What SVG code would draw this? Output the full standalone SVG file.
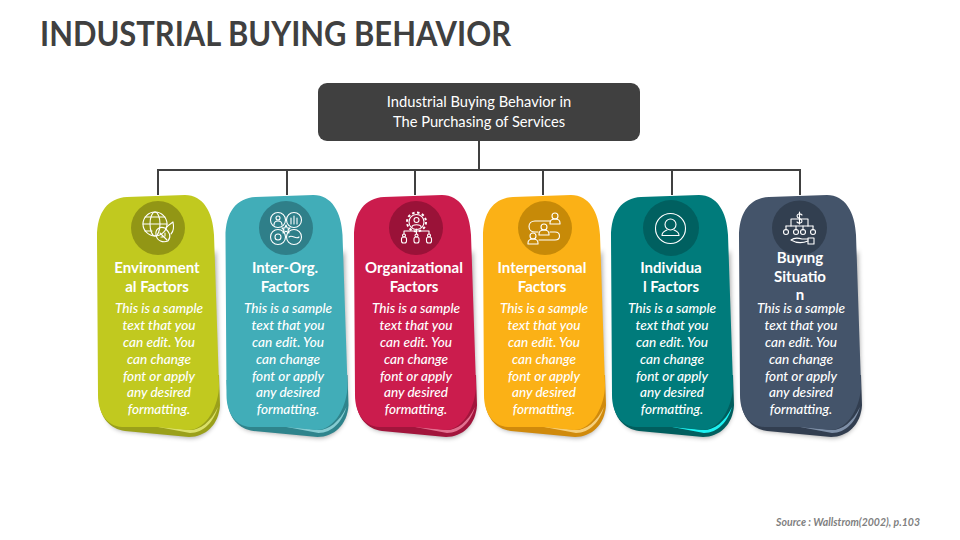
<svg xmlns="http://www.w3.org/2000/svg" width="960" height="540" viewBox="0 0 960 540">
<style>
text{font-family:Lato,"Open Sans","Liberation Sans",sans-serif;fill:#fff;text-anchor:middle}
.h{font-size:33.5px;font-weight:700;fill:#404040;text-anchor:start}
.r{font-size:14.7px}
.t{font-size:15px;font-weight:700}
.b{font-size:13.6px;font-style:italic;font-weight:500}
.s{font-size:10.5px;font-style:italic;font-weight:700;fill:#7f7f7f;text-anchor:end}
.c{fill:none;stroke:#404040;stroke-width:2}
.i{fill:none;stroke:#fff;stroke-width:1.1;stroke-linecap:round;stroke-linejoin:round}
</style>
<defs>
<filter id="sh" x="-15%" y="-10%" width="130%" height="125%"><feGaussianBlur stdDeviation="2.500"/></filter>
<path id="sd" d="M104 390L104 404C105 420 112 430 125 431L190 438C205 438 218 425 219 405L216 250Z"/>
<path id="bk" d="M98 380L99 400C100 418 110 429 125 431L189 437C205 437 219 425 220 405L219 375Z"/>
<path id="hl" d="M153 426L190 430C200 430 211 422 218 407C214 421 204 433 190 433Z"/>
<path id="fr" d="M97 237C97 212 108 198 127 197L185 195C203 195 213 212 214 235L219 385C219 405 207 430 188 430L157 427L122 427C106 426 98 412 98 395Z"/>
</defs>
<text class="h" x="40" y="46" textLength="471" lengthAdjust="spacingAndGlyphs">INDUSTRIAL BUYING BEHAVIOR</text>
<g id="connectors">
<path class="c" d="M479 140V170M158 195V170H800V195M287 170V195M415 170V195M543 170V195M672 170V195"/>
</g>
<g id="root">
<rect x="318" y="83" width="322" height="58" rx="9" fill="#404040"/>
<text class="r" x="479" y="107">Industrial Buying Behavior in</text>
<text class="r" x="479" y="127">The Purchasing of Services</text>
</g>
<g id="card-1">
<use href="#sd" fill="#000" opacity=".35" filter="url(#sh)"/>
<use href="#bk" fill="#9aa01a"/>
<use href="#hl" fill="#dbe06a"/>
<use href="#fr" fill="#c1c91f"/>
<circle cx="158" cy="228" r="27" fill="#929615"/>
<g class="i"><circle cx="155" cy="224" r="12"/><ellipse cx="155" cy="224" rx="5" ry="12"/><path d="M143 224H167M145 217H165M145 231H152"/><path d="M156 235C155 229 160 226 165 228C169 232 172 236 168 241C163 243 157 241 156 235ZM160 233L167 240M165 233V236M161 237H164"/><path d="M166 228C169 224 172 223 173 222C174 227 174 231 171 234"/></g>
<text class="t" x="157" y="273">Environment</text><text class="t" x="157" y="292">al Factors</text>
<text class="b"><tspan x="159" y="313">This is a sample</tspan><tspan x="159" y="330">text that you</tspan><tspan x="159" y="347">can edit. You</tspan><tspan x="159" y="364">can change</tspan><tspan x="159" y="381">font or apply</tspan><tspan x="159" y="397">any desired</tspan><tspan x="159" y="414">formatting.</tspan></text>
</g>
<g id="card-2">
<g transform="translate(128.5 0)">
<use href="#sd" fill="#000" opacity=".35" filter="url(#sh)"/>
<use href="#bk" fill="#2f848c"/>
<use href="#hl" fill="#86ccd2"/>
<use href="#fr" fill="#41adb8"/>
</g>
<circle cx="286" cy="228" r="27" fill="#2f7f89"/>
<g class="i"><circle cx="278" cy="220" r="7.500"/><circle cx="294" cy="220" r="7.500"/><circle cx="278" cy="237" r="7.500"/><circle cx="294" cy="237" r="7.500"/><path d="M286 225L287.200 228H290L288 230L289 233L286 231.200L283 233L284 230L282 228H284.800Z"/><circle cx="278" cy="237" r="3"/><circle cx="278" cy="218" r="2"/><path d="M274 225C274 222 276 221 278 221C280 221 282 222 282 225M291 224V218M294 224V216M297 224V218M289 237C292 234 296 240 299 237"/></g>
<text class="t" x="285" y="273">Inter-Org.</text><text class="t" x="285" y="292">Factors</text>
<text class="b"><tspan x="288" y="313">This is a sample</tspan><tspan x="288" y="330">text that you</tspan><tspan x="288" y="347">can edit. You</tspan><tspan x="288" y="364">can change</tspan><tspan x="288" y="381">font or apply</tspan><tspan x="288" y="397">any desired</tspan><tspan x="288" y="414">formatting.</tspan></text>
</g>
<g id="card-3">
<g transform="translate(257 0)">
<use href="#sd" fill="#000" opacity=".35" filter="url(#sh)"/>
<use href="#bk" fill="#a2153c"/>
<use href="#hl" fill="#e2708f"/>
<use href="#fr" fill="#cb1c4d"/>
</g>
<circle cx="416" cy="228" r="27" fill="#9a1238"/>
<g class="i"><circle cx="416.500" cy="222" r="7.500"/><circle cx="416.500" cy="222" r="9.500" stroke-width="2" stroke-dasharray="2.500 2.500" stroke-linecap="butt"/><circle cx="416.500" cy="220" r="2.500"/><path d="M412 227C412 224 421 224 421 227M416.500 229V231M404 231H429M404 231V234M416.500 231V234M429 231V234"/><rect x="401.500" y="237" width="5" height="6" rx="2"/><rect x="414" y="237" width="5" height="6" rx="2"/><rect x="426.500" y="237" width="5" height="6" rx="2"/><circle cx="404" cy="235.500" r="1.500"/><circle cx="416.500" cy="235.500" r="1.500"/><circle cx="429" cy="235.500" r="1.500"/></g>
<text class="t" x="414" y="273">Organizational</text><text class="t" x="414" y="292">Factors</text>
<text class="b"><tspan x="416" y="313">This is a sample</tspan><tspan x="416" y="330">text that you</tspan><tspan x="416" y="347">can edit. You</tspan><tspan x="416" y="364">can change</tspan><tspan x="416" y="381">font or apply</tspan><tspan x="416" y="397">any desired</tspan><tspan x="416" y="414">formatting.</tspan></text>
</g>
<g id="card-4">
<g transform="translate(386 0)">
<use href="#sd" fill="#000" opacity=".35" filter="url(#sh)"/>
<use href="#bk" fill="#d08a0c"/>
<use href="#hl" fill="#f6cf7c"/>
<use href="#fr" fill="#fbb116"/>
</g>
<circle cx="545" cy="228" r="27" fill="#c78a08"/>
<g class="i"><circle cx="555" cy="216" r="3"/><path d="M550 223C550 220 552 219 555 219C558 219 560 220 560 223V224H550Z"/><circle cx="544" cy="227" r="3"/><path d="M539 234C539 231 541 230 544 230C547 230 549 231 549 234V235H539Z"/><circle cx="533" cy="236" r="3"/><path d="M528 243C528 240 530 239 533 239C536 239 538 240 538 243V244H528Z"/><path d="M550 221H535C527 221 527 232 535 232H538M550 232H555C561 232 561 240 555 240H539"/></g>
<text class="t" x="542" y="273">Interpersonal</text><text class="t" x="542" y="292">Factors</text>
<text class="b"><tspan x="544" y="313">This is a sample</tspan><tspan x="544" y="330">text that you</tspan><tspan x="544" y="347">can edit. You</tspan><tspan x="544" y="364">can change</tspan><tspan x="544" y="381">font or apply</tspan><tspan x="544" y="397">any desired</tspan><tspan x="544" y="414">formatting.</tspan></text>
</g>
<g id="card-5">
<g transform="translate(514 0)">
<use href="#sd" fill="#000" opacity=".35" filter="url(#sh)"/>
<use href="#bk" fill="#015e5e"/>
<use href="#hl" fill="#1cf3f3"/>
<use href="#fr" fill="#007b7b"/>
</g>
<circle cx="671" cy="228" r="28" fill="#006060"/>
<g class="i"><circle cx="670.500" cy="228.500" r="15"/><circle cx="670.500" cy="224.500" r="5.500"/><path d="M662 235.500C662 232 665 231 667 230M679 235.500C679 232 676 231 674 230M662 235.500H679"/></g>
<text class="t" x="671" y="273">Individua</text><text class="t" x="671" y="292">l Factors</text>
<text class="b"><tspan x="672" y="313">This is a sample</tspan><tspan x="672" y="330">text that you</tspan><tspan x="672" y="347">can edit. You</tspan><tspan x="672" y="364">can change</tspan><tspan x="672" y="381">font or apply</tspan><tspan x="672" y="397">any desired</tspan><tspan x="672" y="414">formatting.</tspan></text>
</g>
<g id="card-6">
<g transform="translate(642 0)">
<use href="#sd" fill="#000" opacity=".35" filter="url(#sh)"/>
<use href="#bk" fill="#323e50"/>
<use href="#hl" fill="#7f90a8"/>
<use href="#fr" fill="#44546a"/>
</g>
<text class="t" x="800" y="263">Buying</text><text class="t" x="800" y="282">Situatio</text><text class="t" x="800" y="300">n</text>
<circle cx="799.500" cy="228" r="27.500" fill="#323f50"/>
<g class="i"><path d="M791 226V219H808V226M786 226V230M796 226V230M803 226V230M813 226V230"/><path d="M786 226H813"/><circle cx="786" cy="232" r="2.500"/><circle cx="796" cy="232" r="2.500"/><circle cx="803" cy="232" r="2.500"/><circle cx="813" cy="232" r="2.500"/><path d="M791 240C795 237 799 238 802 239H808M791 240C796 243 803 243 808 241"/><rect x="808" y="238" width="6" height="6"/><path d="M802 215C800 213 797 214 797 216C797 219 802 218 802 221C802 223 799 224 797 222M799.500 212V224"/></g>
<text class="b"><tspan x="801" y="313">This is a sample</tspan><tspan x="801" y="330">text that you</tspan><tspan x="801" y="347">can edit. You</tspan><tspan x="801" y="364">can change</tspan><tspan x="801" y="381">font or apply</tspan><tspan x="801" y="397">any desired</tspan><tspan x="801" y="414">formatting.</tspan></text>
</g>
<text class="s" x="920" y="526">Source : Wallstrom(2002), p.103</text>
</svg>
